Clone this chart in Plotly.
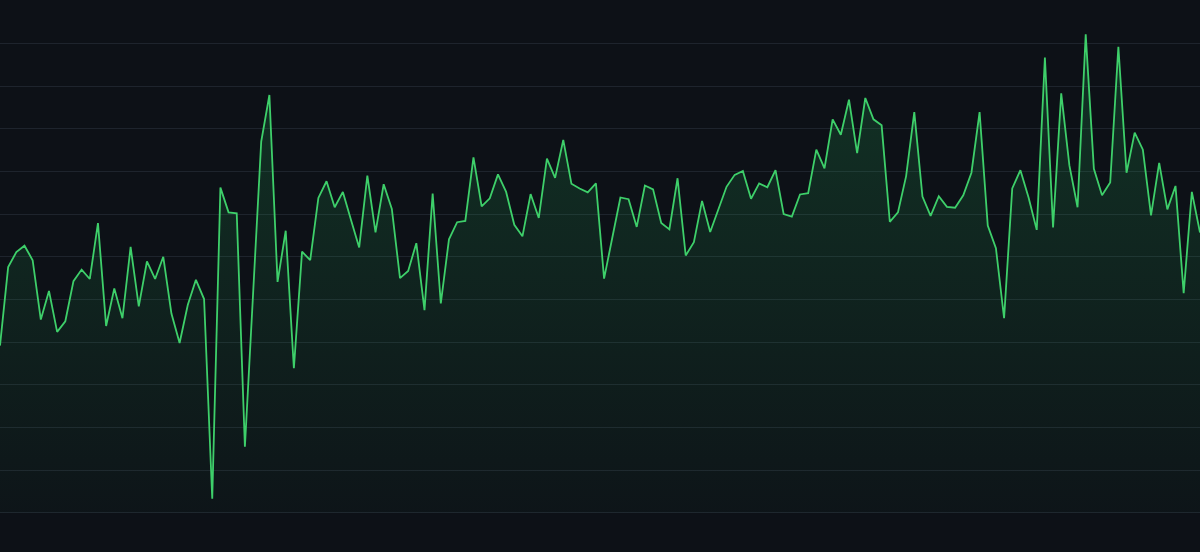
import plotly.graph_objects as go

# Series values (one point per step, 148 points)
values = [
    39.2, 57.6, 61.1, 62.6, 59.2, 45.3, 52.0, 42.4, 44.9, 54.3,
    57.0, 54.8, 67.9, 43.8, 52.6, 45.6, 62.3, 48.4, 58.9, 54.8,
    60.0, 46.7, 39.8, 48.7, 54.6, 50.1, 3.3, 76.2, 70.4, 70.2,
    15.5, 51.3, 87.0, 97.9, 54.1, 66.1, 33.9, 61.2, 59.2, 73.8,
    77.7, 71.6, 75.2, 68.6, 62.2, 79.0, 65.7, 77.0, 71.2, 55.0,
    56.7, 63.2, 47.5, 74.8, 49.1, 64.1, 68.1, 68.4, 83.3, 71.8,
    73.7, 79.3, 75.2, 67.5, 64.8, 74.7, 69.1, 83.0, 78.5, 87.4,
    77.1, 76.0, 75.1, 77.2, 54.9, 64.4, 73.9, 73.5, 67.0, 76.7,
    75.8, 67.9, 66.4, 78.4, 60.3, 63.4, 73.1, 65.8, 71.2, 76.4,
    79.2, 80.1, 73.6, 77.2, 76.3, 80.3, 70.0, 69.4, 74.6, 74.9,
    85.1, 80.7, 92.2, 88.6, 96.8, 84.3, 97.2, 92.2, 90.8, 68.2,
    70.4, 78.9, 93.9, 74.1, 69.6, 74.2, 71.7, 71.5, 74.4, 79.7,
    93.9, 67.3, 62.0, 45.6, 76.0, 80.3, 73.9, 66.3, 106.7, 66.9,
    98.3, 81.4, 71.6, 112.1, 80.6, 74.4, 77.4, 109.2, 79.7, 89.1,
    85.1, 69.7, 82.0, 71.1, 76.6, 51.5, 75.2, 65.7,
]
steps = list(range(len(values)))

y_range = [-9.16, 120.16]
grid_step = 10

BG = "#0d1117"
GRID = "#1e242d"
LINE = "#3ecf6a"

fig = go.Figure()
fig.add_trace(go.Scatter(
    x=steps,
    y=values,
    mode="lines",
    line=dict(color=LINE, width=1.8),
    fill="tozeroy",
    fillgradient=dict(
        type="vertical",
        colorscale=[[0, "rgba(40,200,100,0.02)"], [1, "rgba(40,200,100,0.19)"]],
    ),
    hoverinfo="skip",
    showlegend=False,
))

fig.update_layout(
    width=1200,
    height=552,
    margin=dict(l=0, r=0, t=0, b=0),
    paper_bgcolor=BG,
    plot_bgcolor=BG,
    xaxis=dict(
        range=[steps[0], steps[-1]],
        visible=False,
        showgrid=False,
        zeroline=False,
    ),
    yaxis=dict(
        range=y_range,
        tick0=0,
        dtick=grid_step,
        showgrid=True,
        gridcolor=GRID,
        gridwidth=1,
        zeroline=False,
        showticklabels=False,
        ticks="",
        showline=False,
    ),
)

fig.write_html(
    "out.html",
    config={"displayModeBar": False},
    post_script="document.body.style.margin='0';document.body.style.background='#0d1117';",
)
